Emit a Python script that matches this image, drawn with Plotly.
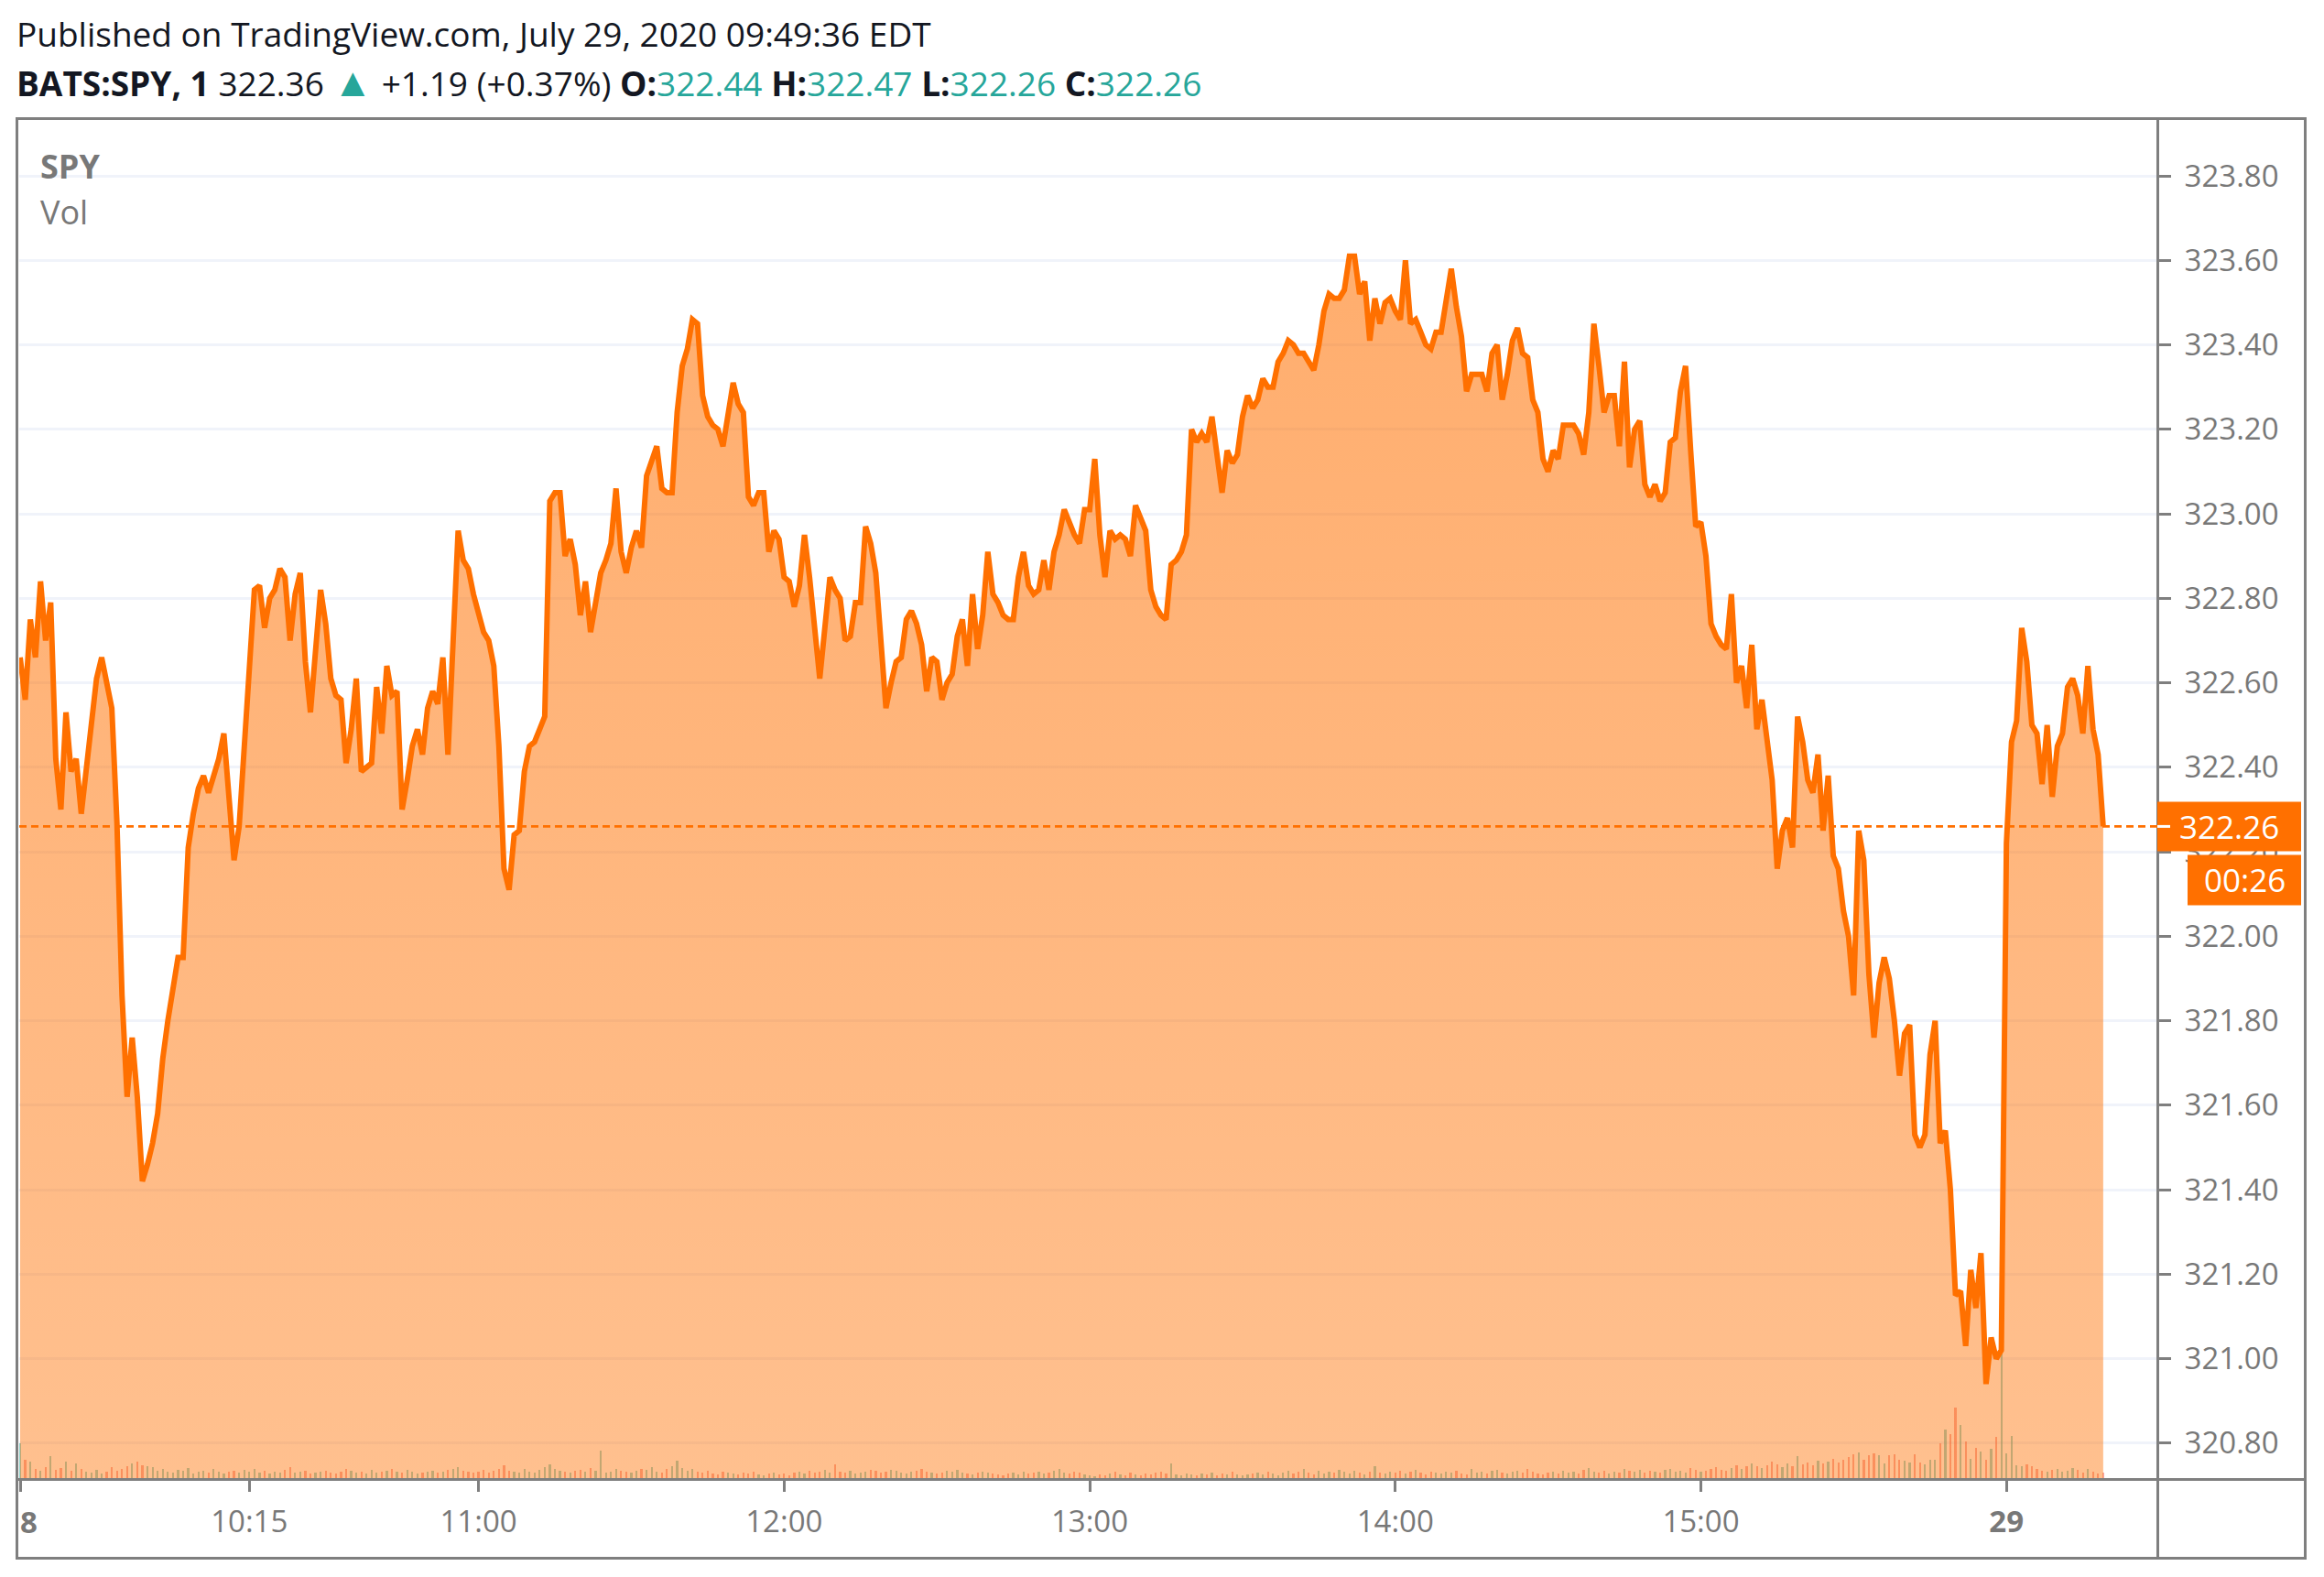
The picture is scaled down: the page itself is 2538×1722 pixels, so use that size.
import plotly.graph_objects as go

# ---------------- data ----------------
# 1-minute closes, BATS:SPY, Jul 28 09:30 .. 15:59 and Jul 29 09:30 .. 09:49
prices = [
    322.66, 322.56, 322.75, 322.66, 322.84, 322.70, 322.79, 322.42, 322.30, 322.53,
    322.39, 322.42, 322.29, 322.39, 322.51, 322.61, 322.66, 322.60, 322.54, 322.27,
    321.86, 321.62, 321.76, 321.62, 321.42, 321.46, 321.51, 321.58, 321.71, 321.80,
    321.87, 321.95, 321.95, 322.21, 322.29, 322.35, 322.38, 322.34, 322.38, 322.42,
    322.48, 322.34, 322.18, 322.26, 322.45, 322.63, 322.82, 322.83, 322.73, 322.80,
    322.82, 322.87, 322.85, 322.70, 322.81, 322.86, 322.65, 322.53, 322.67, 322.82,
    322.74, 322.61, 322.57, 322.56, 322.41, 322.49, 322.61, 322.39, 322.40, 322.41,
    322.59, 322.48, 322.64, 322.57, 322.58, 322.30, 322.37, 322.45, 322.49, 322.43,
    322.54, 322.58, 322.55, 322.66, 322.43, 322.67, 322.96, 322.89, 322.87, 322.81,
    322.77, 322.72, 322.70, 322.64, 322.45, 322.16, 322.11, 322.24, 322.25, 322.39,
    322.45, 322.46, 322.49, 322.52, 323.03, 323.05, 323.05, 322.90, 322.94, 322.88,
    322.76, 322.84, 322.72, 322.79, 322.86, 322.89, 322.93, 323.06, 322.91, 322.86,
    322.92, 322.96, 322.92, 323.09, 323.13, 323.16, 323.06, 323.05, 323.05, 323.24,
    323.35, 323.39, 323.46, 323.45, 323.28, 323.23, 323.21, 323.20, 323.16, 323.24,
    323.31, 323.26, 323.24, 323.04, 323.02, 323.05, 323.05, 322.91, 322.96, 322.94,
    322.85, 322.84, 322.78, 322.83, 322.95, 322.85, 322.74, 322.61, 322.73, 322.85,
    322.82, 322.80, 322.70, 322.71, 322.79, 322.79, 322.97, 322.93, 322.86, 322.69,
    322.54, 322.60, 322.65, 322.66, 322.75, 322.77, 322.74, 322.69, 322.58, 322.66,
    322.65, 322.56, 322.60, 322.62, 322.71, 322.75, 322.64, 322.81, 322.68, 322.76,
    322.91, 322.81, 322.79, 322.76, 322.75, 322.75, 322.85, 322.91, 322.83, 322.81,
    322.82, 322.89, 322.82, 322.91, 322.95, 323.01, 322.98, 322.95, 322.93, 323.01,
    323.01, 323.13, 322.95, 322.85, 322.96, 322.94, 322.95, 322.94, 322.90, 323.02,
    322.99, 322.96, 322.82, 322.78, 322.76, 322.75, 322.88, 322.89, 322.91, 322.95,
    323.20, 323.17, 323.19, 323.17, 323.23, 323.14, 323.05, 323.15, 323.12, 323.14,
    323.23, 323.28, 323.25, 323.27, 323.32, 323.30, 323.30, 323.36, 323.38, 323.41,
    323.40, 323.38, 323.38, 323.36, 323.34, 323.40, 323.48, 323.52, 323.51, 323.51,
    323.53, 323.61, 323.61, 323.52, 323.55, 323.41, 323.51, 323.45, 323.50, 323.51,
    323.48, 323.46, 323.60, 323.45, 323.46, 323.43, 323.40, 323.39, 323.43, 323.43,
    323.51, 323.58, 323.49, 323.42, 323.29, 323.33, 323.33, 323.33, 323.29, 323.38,
    323.40, 323.27, 323.33, 323.41, 323.44, 323.38, 323.37, 323.27, 323.24, 323.13,
    323.10, 323.15, 323.13, 323.21, 323.21, 323.21, 323.19, 323.14, 323.24, 323.45,
    323.35, 323.24, 323.28, 323.28, 323.16, 323.36, 323.11, 323.20, 323.22, 323.07,
    323.04, 323.07, 323.03, 323.05, 323.17, 323.18, 323.29, 323.35, 323.15, 322.97,
    322.98, 322.90, 322.74, 322.71, 322.69, 322.68, 322.81, 322.60, 322.64, 322.54,
    322.69, 322.49, 322.56, 322.46, 322.37, 322.16, 322.25, 322.28, 322.21, 322.52,
    322.46, 322.37, 322.34, 322.43, 322.25, 322.38, 322.19, 322.16, 322.06, 322.00,
    321.86, 322.25, 322.18, 321.91, 321.76, 321.89, 321.95, 321.90, 321.80, 321.67,
    321.77, 321.79, 321.53, 321.50, 321.53, 321.72, 321.80, 321.51, 321.54, 321.40,
    321.15, 321.16, 321.03, 321.21, 321.12, 321.25, 320.94, 321.05, 321.00, 321.02,
    322.22, 322.46, 322.51, 322.73, 322.65, 322.50, 322.48, 322.36, 322.50, 322.33,
    322.45, 322.48, 322.59, 322.61, 322.57, 322.48, 322.64, 322.49, 322.43, 322.26,
]

# volume per bar (thousands of shares)
volumes = [
    40, 22, 20, 12, 10, 14, 26, 11, 13, 20,
    10, 18, 12, 9, 8, 11, 7, 9, 14, 10,
    12, 15, 18, 20, 16, 15, 14, 10, 12, 9,
    8, 11, 10, 13, 7, 9, 10, 8, 12, 9,
    7, 9, 10, 8, 11, 9, 12, 8, 10, 7,
    9, 8, 11, 14, 8, 9, 10, 7, 8, 9,
    10, 8, 7, 9, 12, 10, 8, 9, 7, 11,
    8, 9, 10, 12, 9, 8, 11, 9, 7, 8,
    9, 10, 8, 9, 11, 12, 14, 10, 9, 8,
    9, 11, 8, 10, 12, 16, 10, 9, 8, 12,
    9, 8, 11, 14, 17, 12, 10, 9, 8, 10,
    11, 9, 13, 10, 32, 8, 9, 12, 10, 9,
    8, 10, 12, 11, 14, 9, 8, 12, 15, 21,
    13, 10, 12, 9, 8, 10, 7, 6, 9, 8,
    7, 6, 8, 7, 9, 6, 5, 7, 8, 6,
    7, 5, 8, 9, 7, 10, 8, 9, 11, 8,
    17, 9, 8, 10, 7, 8, 9, 11, 10, 8,
    9, 11, 10, 8, 7, 9, 10, 12, 9, 8,
    7, 8, 10, 9, 11, 8, 7, 6, 8, 9,
    8, 7, 6, 5, 7, 8, 6, 9, 7, 8,
    9, 7, 8, 10, 12, 8, 7, 9, 8, 6,
    5, 4, 6, 5, 7, 9, 6, 5, 8, 6,
    5, 7, 6, 8, 9, 7, 18, 6, 5, 7,
    6, 5, 7, 6, 8, 5, 7, 6, 9, 6,
    5, 6, 7, 8, 6, 9, 7, 5, 8, 10,
    7, 9, 12, 8, 6, 10, 7, 9, 8, 11,
    9, 7, 10, 8, 6, 9, 15, 8, 7, 9,
    8, 10, 7, 9, 11, 8, 6, 9, 8, 7,
    9, 8, 10, 7, 6, 12, 8, 9, 7, 10,
    11, 8, 7, 9, 10, 8, 12, 9, 7, 6,
    8, 9, 7, 10, 8, 9, 7, 11, 13, 9,
    8, 10, 7, 9, 8, 12, 10, 9, 11, 8,
    10, 9, 8, 11, 12, 9, 10, 8, 13, 11,
    9, 10, 12, 14, 11, 10, 13, 16, 12, 15,
    18, 15, 13, 16, 20, 17, 14, 18, 15, 26,
    17, 19, 16, 21, 18, 20, 23, 19, 22, 25,
    28, 30, 22, 27, 29, 27, 18, 27, 28, 22,
    21, 19, 28, 19, 17, 22, 22, 40, 55, 50,
    79, 60, 42, 23, 35, 31, 22, 34, 47, 372,
    29, 48, 16, 15, 17, 15, 12, 10, 9, 11,
    12, 9, 10, 13, 11, 8, 12, 9, 7, 8,
]

# time-axis labels at bar indices (session bars, no gaps)
tick_bars = [0, 45, 90, 150, 210, 270, 330, 390]
tick_labels = ["", "10:15", "11:00", "12:00", "13:00", "14:00", "15:00", "<b>29</b>"]
first_day_label = "8"          # "28" clipped by the pane edge

price_ticks = [320.80, 321.00, 321.20, 321.40, 321.60, 321.80, 322.00,
               322.20, 322.40, 322.60, 322.80, 323.00, 323.20, 323.40,
               323.60, 323.80]

symbol = "BATS:SPY, 1"
last_quote = "322.36"
change_text = "+1.19 (+0.37%)"
ohlc = [("O", "322.44"), ("H", "322.47"), ("L", "322.26"), ("C", "322.26")]
published = "Published on TradingView.com, July 29, 2020 09:49:36 EDT"
countdown = "00:26"

# ---------------- styling / layout ----------------
W, H = 2538, 1722
L, R, T, B = 21, 182, 133, 106
PW, PH = W - L - R, H - T - B
BAR_PX = 5.562
Y_LO, Y_HI = 320.713, 323.928

ORANGE = "rgb(255,112,0)"
FRAME = "#7f7f7f"
TXT = "#787878"
TEAL = "#26a69a"
FONT = "Open Sans"


def pxx(px):
    return (px - L) / PW


def pxy(py):
    return (H - B - py) / PH


n = len(prices)
xs = list(range(n))
vol_colors = [
    "rgba(38,166,154,0.5)" if (i == 0 or prices[i] >= prices[i - 1]) else "rgba(239,83,80,0.5)"
    for i in range(n)
]

fig = go.Figure()
fig.add_trace(go.Bar(
    x=xs, y=volumes, yaxis="y", width=0.4,
    marker=dict(color=vol_colors, line=dict(width=0)),
    showlegend=False, hoverinfo="skip",
))
fig.add_trace(go.Scatter(
    x=xs, y=prices, yaxis="y2", mode="lines",
    line=dict(color=ORANGE, width=6),
    fill="tozeroy",
    fillgradient=dict(type="vertical", start=Y_LO, stop=max(prices),
                      colorscale=[[0, "rgba(255,112,0,0.44)"], [1, "rgba(255,112,0,0.57)"]]),
    showlegend=False, hoverinfo="skip",
))

last = prices[-1]
x0 = -1.0 / BAR_PX

shapes = [
    # outer frame
    dict(type="rect", xref="paper", yref="paper", x0=pxx(18.5), x1=pxx(2517.5),
         y0=pxy(1701.5), y1=pxy(129.5), line=dict(color=FRAME, width=3), layer="above"),
    # price-scale separator
    dict(type="line", xref="paper", yref="paper", x0=pxx(2356.5), x1=pxx(2356.5),
         y0=pxy(1701.5), y1=pxy(129.5), line=dict(color=FRAME, width=3), layer="above"),
    # time-scale separator
    dict(type="line", xref="paper", yref="paper", x0=pxx(18.5), x1=pxx(2517.5),
         y0=pxy(1615.5), y1=pxy(1615.5), line=dict(color=FRAME, width=3), layer="above"),
    # last price dashed line
    dict(type="line", xref="paper", yref="y2", x0=0, x1=1, y0=last, y1=last,
         line=dict(color=ORANGE, width=2.6, dash="8px,5px"), layer="above"),
    # last price box
    dict(type="rect", xref="paper", yref="y2", xsizemode="pixel", xanchor=1,
         x0=0, x1=157, ysizemode="pixel", yanchor=last, y0=-27, y1=27,
         fillcolor=ORANGE, line=dict(width=0), layer="above"),
    dict(type="line", xref="paper", yref="y2", xsizemode="pixel", xanchor=1,
         x0=0, x1=14, y0=last, y1=last, line=dict(color="white", width=3), layer="above"),
    # countdown box
    dict(type="rect", xref="paper", yref="y2", xsizemode="pixel", xanchor=1,
         x0=33, x1=157, ysizemode="pixel", yanchor=last, y0=-31, y1=-86,
         fillcolor=ORANGE, line=dict(width=0), layer="above"),
]

line2 = (f"<b>{symbol}</b> {last_quote} <span style=\"color:{TEAL};font-size:44px\">▲</span> {change_text} "
         + " ".join(f"<b>{k}:</b><span style=\"color:{TEAL}\">{v}</span>" for k, v in ohlc))

annotations = [
    dict(text=published, xref="paper", yref="paper", x=pxx(16), y=pxy(37),
         xanchor="left", yanchor="middle", showarrow=False,
         font=dict(family=FONT, size=37, color="#131722")),
    dict(text=line2, xref="paper", yref="paper", x=pxx(16), y=pxy(88),
         xanchor="left", yanchor="middle", showarrow=False,
         font=dict(family=FONT, size=37, color="#131722")),
    dict(text="<b>SPY</b>", xref="paper", yref="paper", x=pxx(42), y=pxy(181),
         xanchor="left", yanchor="middle", showarrow=False,
         font=dict(family=FONT, size=36, color=TXT)),
    dict(text="Vol", xref="paper", yref="paper", x=pxx(42), y=pxy(232),
         xanchor="left", yanchor="middle", showarrow=False,
         font=dict(family=FONT, size=36, color=TXT)),
    dict(text=f"<b>{first_day_label}</b>", xref="paper", yref="paper", x=pxx(20), y=pxy(1661),
         xanchor="left", yanchor="middle", showarrow=False,
         font=dict(family=FONT, size=33, color=TXT)),
    dict(text=f"{last:.2f}", xref="paper", yref="y2", x=1, y=last, xshift=78,
         xanchor="center", yanchor="middle", showarrow=False,
         font=dict(family=FONT, size=35, color="white")),
    dict(text=countdown, xref="paper", yref="y2", x=1, y=last, xshift=95, yshift=-58,
         xanchor="center", yanchor="middle", showarrow=False,
         font=dict(family=FONT, size=35, color="white")),
]

fig.update_layout(
    width=W, height=H,
    margin=dict(l=L, r=R, t=T, b=B, pad=0),
    paper_bgcolor="white", plot_bgcolor="white",
    template="none",
    showlegend=False,
    bargap=0,
    xaxis=dict(range=[x0, x0 + PW / BAR_PX], showgrid=False, zeroline=False, showline=False,
               tickmode="array", tickvals=tick_bars, ticktext=tick_labels,
               ticks="outside", ticklen=12, tickwidth=3, tickcolor=FRAME,
               ticklabelstandoff=4,
               tickfont=dict(family=FONT, size=33, color=TXT), fixedrange=True),
    yaxis=dict(range=[0, max(volumes) / 0.251], visible=False, showgrid=False,
               zeroline=False, fixedrange=True),
    yaxis2=dict(range=[Y_LO, Y_HI], overlaying="y", side="right", anchor="x",
                tickmode="array", tickvals=price_ticks, tickformat=".2f",
                showgrid=True, gridcolor="#f0f3fa", gridwidth=2.6,
                zeroline=False, showline=False,
                ticks="outside", ticklen=14, tickwidth=3, tickcolor=FRAME,
                ticklabelstandoff=8,
                tickfont=dict(family=FONT, size=33, color=TXT), fixedrange=True),
    shapes=shapes,
    annotations=annotations,
)

fig.write_html("out.html")
